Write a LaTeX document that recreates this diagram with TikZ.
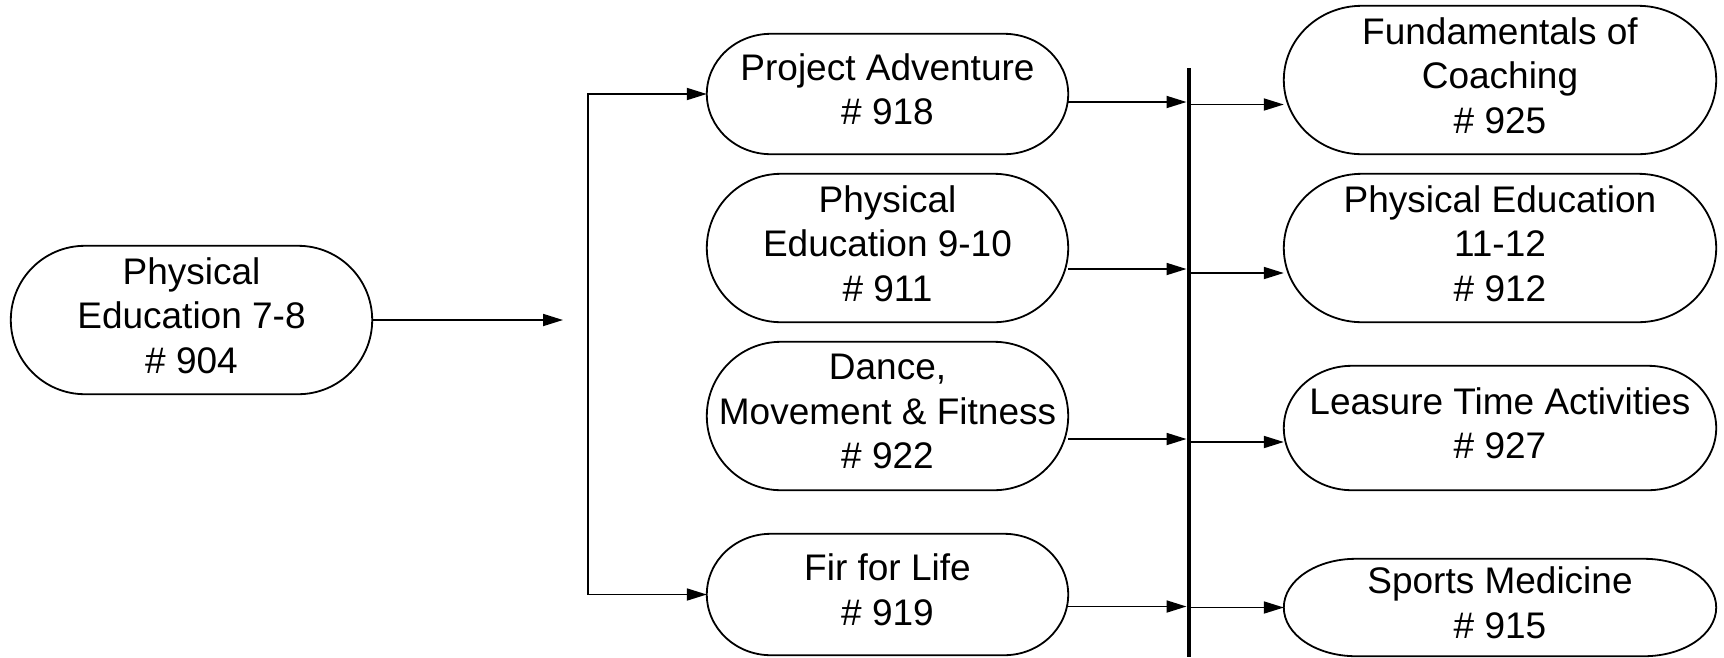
\documentclass[tikz,border=0pt]{standalone}
\usepackage{fontspec}
\setmainfont{Liberation Sans}
\usetikzlibrary{arrows.meta,calc}
\newcommand\stad[2]{%
  \draw[shapeline] let \p1=(#1.north west), \p2=(#1.south east), \n1={(\y1-\y2)/2} in
    (\x1+#2pt,\y1) -- (\x2-#2pt,\y1)
    arc[start angle=90,end angle=-90,x radius=#2pt,y radius={\n1*1pt}]
    -- (\x1+#2pt,\y2)
    arc[start angle=270,end angle=90,x radius=#2pt,y radius={\n1*1pt}] -- cycle;}
\begin{document}
\begin{tikzpicture}[x=1pt,y=-1pt,
  shapeline/.style={line width=1.8pt},
  txt/.style={inner sep=0pt,align=center,font=\fontsize{37}{44.5}\selectfont,yshift=4.5pt},
  course/.style={inner sep=0pt},
  mid/.style={course,minimum width=361pt},
  right/.style={course,minimum width=432pt},
  conn/.style={line width=1.8pt,-{Triangle[length=20pt,width=12pt]}},
  barline/.style={line width=4pt}]
\useasboundingbox (0,0) rectangle (1724,657);
% nodes
\node[course,minimum width=361pt,minimum height=148pt,label={[txt]center:{Physical\\Education 7-8\\\# 904}}] (n904) at (191.5,320) {};
\node[mid,minimum height=120pt,label={[txt]center:{Project Adventure\\\# 918}}] (n918) at (887.5,94) {};
\node[mid,minimum height=148pt,label={[txt]center:{Physical\\Education 9-10\\\# 911}}] (n911) at (887.5,248) {};
\node[mid,minimum height=148pt,label={[txt]center:{Dance,\\Movement \& Fitness\\\# 922}}] (n922) at (887.5,416) {};
\node[mid,minimum height=121pt,label={[txt]center:{Fir for Life\\\# 919}}] (n919) at (887.5,594.5) {};
\node[right,minimum height=148pt,label={[txt]center:{Fundamentals of\\Coaching\\\# 925}}] (n925) at (1500,80) {};
\node[right,minimum height=148pt,label={[txt]center:{Physical Education\\11-12\\\# 912}}] (n912) at (1500,248) {};
\node[right,minimum height=124pt,label={[txt]center:{Leasure Time Activities\\\# 927}}] (n927) at (1500,428) {};
\node[right,minimum height=97pt,label={[txt]center:{Sports Medicine\\\# 915}}] (n915) at (1500,607.5) {};
\stad{n904}{74}
\stad{n918}{64}
\stad{n911}{74}
\stad{n922}{74}
\stad{n919}{64}
\stad{n925}{78}
\stad{n912}{78}
\stad{n927}{68}
\stad{n915}{72}
% helper coordinates
\coordinate (a904) at (563,320);
\coordinate (bm) at (588,345);
\coordinate (bartop) at (1188.5,68);
\coordinate (barbot) at (1188.5,657);
% connectors
\draw[conn] (n904.east) -- (a904);
\draw[conn] (bm) |- (n918.west);
\draw[conn] (bm) |- (n919.west);
\draw[barline] (bartop) -- (barbot);
\draw[conn,shorten >=2pt] ([yshift=-8pt]n918.east) -- ([yshift=-8pt]n918.east -| bartop);
\draw[conn,shorten >=2pt] ([yshift=-21pt]n911.east) -- ([yshift=-21pt]n911.east -| bartop);
\draw[conn,shorten >=2pt] ([yshift=-23pt]n922.east) -- ([yshift=-23pt]n922.east -| bartop);
\draw[conn,shorten >=2pt] ([yshift=-12pt]n919.east) -- ([yshift=-12pt]n919.east -| bartop);
\draw[conn] ([yshift=-24.5pt]n925.west -| bartop) -- ([yshift=-24.5pt]n925.west);
\draw[conn] ([yshift=-25pt]n912.west -| bartop) -- ([yshift=-25pt]n912.west);
\draw[conn] ([yshift=-14pt]n927.west -| bartop) -- ([yshift=-14pt]n927.west);
\draw[conn] (n915.west -| bartop) -- (n915.west);
\end{tikzpicture}
\end{document}
